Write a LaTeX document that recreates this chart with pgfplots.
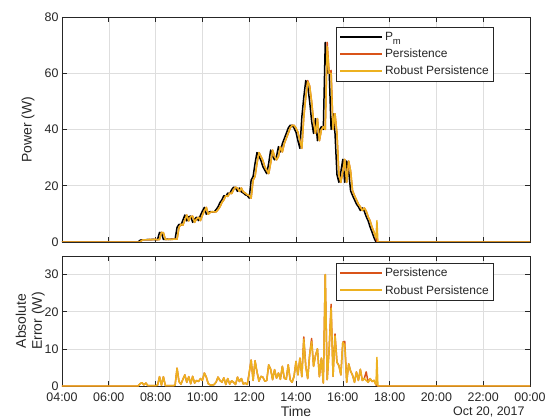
\documentclass[border=0pt]{standalone}
\usepackage{fontspec}
\setmainfont{Liberation Sans}
\usepackage{pgfplots}
\pgfplotsset{compat=1.18}
\usepackage{pgfplotstable}
\definecolor{cP}{rgb}{0.85,0.325,0.098}
\definecolor{cR}{rgb}{0.929,0.694,0.125}
\definecolor{axgray}{rgb}{0.15,0.15,0.15}
\definecolor{gridgray}{rgb}{0.87,0.87,0.87}

\pgfplotstableread{
t pm pers rob
4.000 0 0 0
7.250 0 0 0
7.333 0.6 0 0
7.417 0.8 0.6 0.6
7.500 0.8 0.8 0.8
7.583 0.8 0.8 0.8
7.667 0.9 0.8 0.8
7.750 0.8 0.9 0.9
7.833 0.9 0.8 0.8
7.917 0.9 0.9 0.9
8.000 0.8 0.9 0.9
8.083 0.9 0.8 0.8
8.167 3.4 0.9 0.9
8.250 3.3 3.4 3.4
8.333 0.9 3.3 3.3
8.417 0.9 0.9 0.9
8.500 1.0 0.9 0.9
8.583 0.9 1.0 1.0
8.667 1.0 0.9 0.9
8.750 1.0 1.0 1.0
8.833 1.0 1.0 1.0
8.917 5.2 1.0 1.0
9.000 6.3 5.2 5.2
9.083 6.0 6.3 6.3
9.167 7.8 6.0 6.0
9.250 9.6 7.8 7.8
9.333 7.5 9.6 9.6
9.417 9.0 7.5 7.5
9.500 9.2 9.0 9.0
9.583 7.0 9.2 9.2
9.667 8.2 7.0 7.0
9.750 8.8 8.2 8.2
9.833 7.6 8.8 8.8
9.917 9.5 7.6 7.6
10.000 11.0 9.5 9.5
10.083 12.3 11.0 11.0
10.167 9.9 12.3 12.3
10.250 10.5 9.9 9.9
10.333 10.8 10.5 10.5
10.417 10.7 10.8 10.8
10.500 10.7 10.7 10.7
10.583 11.5 10.7 10.7
10.667 12.5 11.5 11.5
10.750 14.0 12.5 12.5
10.833 15.0 14.0 14.0
10.917 16.5 15.0 15.0
11.000 16.2 16.5 16.5
11.083 17.4 16.2 16.2
11.167 17.2 17.4 17.4
11.250 18.6 17.2 17.2
11.333 19.5 18.6 18.6
11.417 19.2 19.5 19.5
11.500 18.0 19.2 19.2
11.583 19.2 18.0 18.0
11.667 17.8 19.2 19.2
11.750 17.4 17.8 17.8
11.833 16.8 17.4 17.4
11.917 16.5 16.8 16.8
12.000 15.6 16.5 16.5
12.083 22.0 15.6 15.6
12.167 23.3 22.0 22.0
12.250 28.0 23.3 23.3
12.333 31.8 28.0 28.0
12.417 30.5 31.8 31.8
12.500 29.0 30.5 30.5
12.583 26.8 29.0 29.0
12.667 25.5 26.8 26.8
12.750 24.3 25.5 25.5
12.833 28.0 24.3 24.3
12.917 32.7 28.0 28.0
13.000 30.5 32.7 32.7
13.083 29.2 30.5 30.5
13.167 30.4 29.2 29.2
13.250 33.9 30.4 30.4
13.333 32.0 33.9 33.9
13.417 35.0 32.0 32.0
13.500 36.8 35.0 35.0
13.583 38.6 36.8 36.8
13.667 40.5 38.6 38.6
13.750 41.5 40.5 40.5
13.833 41.5 41.5 41.5
13.917 40.5 41.5 41.5
14.000 39.0 40.5 40.5
14.083 36.0 39.0 39.0
14.167 33.3 36.0 36.0
14.250 44.5 33.3 33.3
14.333 51.5 44.5 44.5
14.417 57.4 51.5 51.5
14.500 55.5 57.4 57.0
14.583 50.0 55.5 55.5
14.667 43.0 50.0 50.0
14.750 38.6 43.0 43.0
14.833 43.9 38.6 38.6
14.917 36.0 43.9 43.9
15.000 39.8 36.0 36.0
15.083 41.0 39.8 39.8
15.167 40.0 41.0 41.0
15.250 71.0 40.0 40.0
15.333 60.0 71.0 69.5
15.417 61.0 60.0 60.0
15.500 40.0 61.0 60.0
15.583 45.6 40.0 40.0
15.667 38.6 45.6 45.6
15.750 24.0 38.6 38.6
15.833 21.2 24.0 24.0
15.917 25.0 21.2 21.2
16.000 29.4 25.0 25.0
16.083 21.2 29.4 29.4
16.167 28.8 21.2 21.2
16.250 25.3 28.8 28.8
16.333 18.2 25.3 25.3
16.417 16.5 18.2 18.2
16.500 15.0 16.5 16.5
16.583 13.5 15.0 15.0
16.667 12.5 13.5 13.5
16.750 11.2 12.5 12.5
16.833 12.1 11.2 11.2
16.917 11.0 12.1 12.1
17.000 9.0 11.0 11.0
17.083 7.5 9.0 9.0
17.167 5.3 7.5 7.5
17.250 3.5 5.3 5.3
17.333 1.5 3.5 3.5
17.417 0 1.5 1.5
17.458 0 0 7.6
17.500 0 0 0
24.000 0 0 0
}\powertab

\pgfplotstableread{
t ep er
4.000 0 0
7.250 0 0
7.333 0.6 0.6
7.417 0.9 0.9
7.500 0.3 0.3
7.583 0.8 0.8
7.667 0.1 0.1
7.750 0.1 0.1
7.833 0.1 0.1
7.917 0.1 0.1
8.000 0.1 0.1
8.083 0.2 0.2
8.167 2.5 2.5
8.250 0.2 0.2
8.333 2.5 2.5
8.417 0.1 0.1
8.500 0.1 0.1
8.583 0.1 0.1
8.667 0.1 0.1
8.750 0.1 0.1
8.833 0.2 0.2
8.917 4.8 4.8
9.000 1.2 1.2
9.083 0.5 0.5
9.167 1.8 1.8
9.250 3.0 3.0
9.333 1.0 1.0
9.417 2.5 2.5
9.500 0.6 0.6
9.583 2.6 2.6
9.667 0.8 0.8
9.750 1.5 1.5
9.833 1.2 1.2
9.917 2.0 2.0
10.000 1.5 1.5
10.083 3.5 3.5
10.167 2.4 2.4
10.250 0.6 0.6
10.333 0.3 0.3
10.417 0.2 0.2
10.500 0.4 0.4
10.583 1.0 1.0
10.667 2.4 2.4
10.750 1.5 1.5
10.833 1.0 1.0
10.917 2.2 2.2
11.000 0.4 0.4
11.083 2.0 2.0
11.167 0.5 0.5
11.250 1.4 1.4
11.333 1.0 1.0
11.417 0.4 0.4
11.500 2.4 2.4
11.583 1.2 1.2
11.667 2.0 2.0
11.750 0.5 0.5
11.833 0.8 0.8
11.917 0.4 0.4
12.000 3.5 3.5
12.083 7.0 7.0
12.167 1.5 1.5
12.250 6.8 6.8
12.333 3.8 3.8
12.417 1.3 1.3
12.500 2.6 2.6
12.583 2.4 2.4
12.667 1.3 1.3
12.750 1.5 1.5
12.833 5.7 5.7
12.917 4.5 4.5
13.000 1.7 1.7
13.083 4.4 4.4
13.167 2.1 2.1
13.250 3.5 3.5
13.333 1.8 1.8
13.417 5.3 5.3
13.500 2.1 2.1
13.583 1.8 1.8
13.667 5.7 5.7
13.750 1.7 1.7
13.833 1.0 1.0
13.917 2.6 2.6
14.000 6.6 6.6
14.083 3.0 3.0
14.167 7.5 7.5
14.250 2.5 2.5
14.333 13.2 12.6
14.417 5.3 5.3
14.500 2.0 2.0
14.583 8.4 8.4
14.667 12.8 12.0
14.750 5.3 5.3
14.833 8.2 8.2
14.917 10.0 10.0
15.000 2.5 2.5
15.083 7.5 7.5
15.167 0.8 0.8
15.250 30.0 30.0
15.333 1.7 1.7
15.417 10.0 10.0
15.500 22.0 21.0
15.583 2.6 2.6
15.667 14.0 13.5
15.750 6.4 6.4
15.833 5.5 5.5
15.917 3.0 3.0
16.000 11.8 11.8
16.083 12.0 11.0
16.167 1.0 1.0
16.250 6.0 6.0
16.333 4.0 4.0
16.417 2.9 2.9
16.500 1.0 1.0
16.583 3.8 3.8
16.667 1.5 1.5
16.750 4.5 4.5
16.833 1.5 1.5
16.917 2.0 2.0
17.000 3.8 1.5
17.083 1.0 1.0
17.167 2.0 2.0
17.250 1.2 1.2
17.333 1.5 1.5
17.417 0.3 0.3
17.458 0.2 7.7
17.500 0 0
24.000 0 0
}\errtab

\pgfplotsset{
  mystyle/.style={
    scale only axis, width=468bp,
    xmin=4, xmax=24, xtick={4,6,...,24},
    axis line style={axgray, line width=0.6bp},
    tick style={axgray, line width=0.6bp},
    major tick length=5bp,
    grid=major, grid style={gridgray, line width=0.5bp},
    ticklabel style={font=\fontsize{12.5}{14}\selectfont, text=axgray},
    xticklabel style={yshift=-3bp},
    /pgf/number format/assume math mode=true,
    label style={font=\fontsize{14}{16}\selectfont, text=axgray},
    legend style={font=\fontsize{12}{14}\selectfont, text=axgray, draw=axgray,
      line width=0.6bp, anchor=north east, inner xsep=3bp, inner ysep=3bp, row sep=3bp},
    legend cell align=left,
    legend image code/.code={\draw[#1, line width=1.8pt] (0bp,0.3bp) -- (42bp,0.3bp);},
    every axis plot/.append style={line width=1.5pt, no markers, line join=round},
  }
}

\begin{document}
\begin{tikzpicture}
\begin{axis}[mystyle, name=top, at={(0,0)}, anchor=south west,
  height=225bp, ymin=0, ymax=80, ytick={0,20,...,80},
  xticklabels={},
  ylabel={Power (W)},
  ylabel style={at={(axis description cs:-0.0726,0.5)}, anchor=center},
  legend style={at={(axis description cs:0.923,0.956)}},
]
\addplot[black] table[x=t, y=pm] {\powertab};
\addlegendentry{P\raisebox{-0.6ex}{\fontsize{9.5}{10}\selectfont m}\rule[-1.8ex]{0pt}{1ex}}
\addplot[cP] table[x=t, y=pers] {\powertab};
\addlegendentry{Persistence}
\addplot[cR] table[x=t, y=rob] {\powertab};
\addlegendentry{Robust Persistence}
\end{axis}

\begin{axis}[mystyle, name=bot, at={(0,-14bp)}, anchor=north west,
  height=130bp, ymin=0, ymax=35, ytick={0,10,20,30},
  xticklabels={04:00,06:00,08:00,10:00,12:00,14:00,16:00,18:00,20:00,22:00,00:00},
  xlabel={Time},
  xlabel style={at={(axis description cs:0.5,0)}, anchor=center, yshift=-25.5bp},
  ylabel={Absolute\\Error (W)},
  ylabel style={at={(axis description cs:-0.068,0.5)}, anchor=center, align=center},
  legend style={at={(axis description cs:0.923,0.946)}},
]
\addplot[cP] table[x=t, y=ep] {\errtab};
\addlegendentry{Persistence}
\addplot[cR] table[x=t, y=er] {\errtab};
\addlegendentry{Robust Persistence}
\end{axis}

\node[anchor=east, text=axgray, font=\fontsize{12.5}{14}\selectfont] at ([xshift=-2bp, yshift=-25.5bp]bot.south east) {Oct 20, 2017};

\pgfresetboundingbox
\path[use as bounding box] (-62bp,-176bp) rectangle (485bp,242bp);
\end{tikzpicture}
\end{document}
